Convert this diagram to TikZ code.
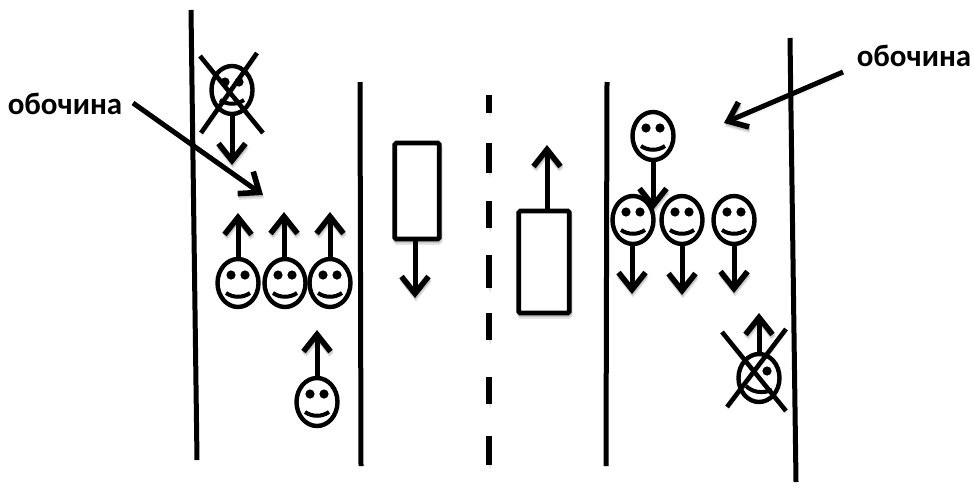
\documentclass[tikz,border=0pt]{standalone}
\usepackage{fontspec}
\setmainfont{Carlito}
\usetikzlibrary{arrows.meta,shapes.geometric}
\tikzset{
 shad/.style={preaction={draw,black,opacity=.10,transform canvas={shift={(1pt,-3.5pt)}}},preaction={draw,black,opacity=.14,transform canvas={shift={(.5pt,-1.8pt)}}}},
 road/.style={line width=5pt,shad},
 arr/.style={line width=5pt,shad,-{Straight Barb[length=17pt,width=27pt,line width=5.6pt]}},
 xmark/.style={line width=4.6pt,shad},
 box/.style={draw,line width=4.6pt,rounded corners=1.5pt,inner sep=0pt,fill=white,shad},
 head/.style={ellipse,draw,line width=4.4pt,minimum width=41pt,minimum height=48pt,inner sep=0pt},
 lab/.style={font=\bfseries\fontsize{31}{33}\selectfont,inner sep=0pt},
}
\newcommand{\smiley}[3]{%
 \node[head] (#1) at (#2,#3) {};
 \fill (#2-7,#3-8) circle (4.6pt) (#2+7,#3-8) circle (4.6pt);
 \draw[line width=4pt] (#2-12,#3+10) .. controls (#2-5,#3+15) and (#2+5,#3+15) .. (#2+12,#3+10);
}
\begin{document}
\begin{tikzpicture}[x=1pt,y=-1pt]
\useasboundingbox (0,0) rectangle (974,485);
% road lines
\coordinate (l1a) at (191,10); \coordinate (l1b) at (197,460);
\coordinate (l2a) at (360,82); \coordinate (l2b) at (361,466);
\coordinate (l4a) at (607,82); \coordinate (l4b) at (606,466);
\coordinate (l5a) at (790,38); \coordinate (l5b) at (796,482);
\draw[road] (l1a) -- (l1b);
\draw[road] (l2a) -- (l2b);
\foreach \ya/\yb in {95/113,143/173,201/228,255/288,313/340,377/404,436/465}
  \draw[road,line width=5.5pt] (489,\ya) -- (489,\yb);
\draw[road] (l4a) -- (l4b);
\draw[road] (l5a) -- (l5b);
% cars
\node[box,minimum width=44.5pt,minimum height=96pt] (car1) at (417,191) {};
\node[box,minimum width=50.5pt,minimum height=102pt] (car2) at (544,262) {};
\coordinate (c1e) at (415,298); \coordinate (c2e) at (547,145);
\draw[arr] (car1.south -| c1e) -- (c1e);
\draw[arr] (car2.north -| c2e) -- (c2e);
% left smileys
\smiley{a}{232}{90}
\smiley{b}{238}{283}
\smiley{c}{285}{283}
\smiley{d}{330}{283}
\smiley{e}{317}{402}
\coordinate (ae) at (232,165); \coordinate (be) at (238,213);
\coordinate (ce) at (284,212); \coordinate (de) at (330,212);
\coordinate (ee) at (317,330);
\draw[arr] (a.south) -- (ae);
\draw[arr] (b.north) -- (be);
\draw[arr] (c.north -| ce) -- (ce);
\draw[arr] (d.north) -- (de);
\draw[arr] (e.north) -- (ee);
\coordinate (x1) at (200,56); \coordinate (x2) at (263,133);
\coordinate (x3) at (257,53); \coordinate (x4) at (201,133);
\draw[xmark] (x1) -- (x2);
\draw[xmark] (x3) -- (x4);
% right smileys
\smiley{f}{653}{136}
\smiley{g}{633}{220}
\smiley{h}{682}{220}
\smiley{i}{734}{220}
\coordinate (fe) at (653,210); \coordinate (ge) at (632,294);
\coordinate (he) at (682,295); \coordinate (ie) at (734,293);
\draw[arr] (f.south) -- (fe);
\draw[arr] (g.south -| ge) -- (ge);
\draw[arr] (h.south) -- (he);
\draw[arr] (i.south) -- (ie);
% crossed right smiley
\node[head] (j) at (759,378) {};
\fill (767,371) circle (4.6pt);
\draw[line width=4pt] (746,386) .. controls (752,392) and (762,394) .. (772,390);
\coordinate (je) at (759,313);
\draw[arr] (j.north) -- (je);
\coordinate (y1) at (722,332); \coordinate (y2) at (786,411);
\coordinate (y3) at (786,329); \coordinate (y4) at (727,407);
\draw[xmark] (y1) -- (y2);
\draw[xmark] (y3) -- (y4);
% labels
\node[lab] (ll) at (65,104) {обочина};
\node[lab] (lr) at (914,56) {обочина};
\coordinate (lle) at (263,195); \coordinate (lre) at (724,123);
\coordinate (lls) at (133,103); \coordinate (lrs) at (843,72);
\draw[arr] (lls) -- (lle);
\draw[arr] (lrs) -- (lre);
\end{tikzpicture}
\end{document}
